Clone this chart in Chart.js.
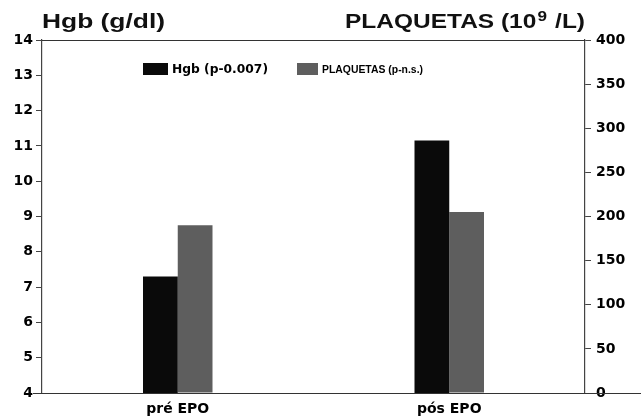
<!DOCTYPE html>
<html>
<head>
<meta charset="utf-8">
<script src="https://cdn.jsdelivr.net/npm/chart.js@4.4.0/dist/chart.umd.min.js"></script>
<style>
html,body{margin:0;padding:0;background:#fff;}
#wrap{width:641px;height:420px;position:relative;}
</style>
</head>
<body>
<div id="wrap"><canvas id="c" width="641" height="420"></canvas></div>
<script>
const categories = ["pré EPO", "pós EPO"];
const hgbValues = [7.3, 11.15];
const plaqValues = [190, 205];
const hgbTicks = [4, 5, 6, 7, 8, 9, 10, 11, 12, 13, 14];
const plaqTicks = [0, 50, 100, 150, 200, 250, 300, 350, 400];
const seriesLabels = ["Hgb (p-0.007)", "PLAQUETAS (p-n.s.)"];
const leftTitle = "Hgb (g/dl)";
const rightTitleParts = ["PLAQUETAS (10", "9", " /L)"];

const FONT = "'DejaVu Sans', 'Liberation Sans', Arial, sans-serif";
const TFONT = "'Liberation Sans', Arial, sans-serif";

function fitText(ctx, text, x, y, font, targetW) {
  ctx.font = font;
  const w = ctx.measureText(text).width;
  ctx.save();
  ctx.translate(x, y);
  ctx.scale(targetW / w, 1);
  ctx.fillText(text, 0, 0);
  ctx.restore();
}

const decor = {
  id: 'decor',
  afterDraw(chart) {
    const ctx = chart.ctx;
    const a = chart.chartArea;
    ctx.save();
    // frame lines
    ctx.strokeStyle = '#333';
    ctx.lineWidth = 1.2;
    ctx.beginPath();
    ctx.moveTo(a.left, a.top + 0.5); ctx.lineTo(a.right, a.top + 0.5);
    ctx.moveTo(33, a.bottom + 0.5); ctx.lineTo(641, a.bottom + 0.5);
    ctx.stroke();
    // titles
    ctx.fillStyle = '#111';
    ctx.textBaseline = 'alphabetic';
    ctx.textAlign = 'left';
    const tf = "bold 20px " + TFONT;
    const sf = "bold 14px " + TFONT;
    fitText(ctx, leftTitle, 42, 28, tf, 123);
    ctx.font = tf;
    const w1 = ctx.measureText(rightTitleParts[0]).width;
    ctx.font = sf;
    const w2 = ctx.measureText(rightTitleParts[1]).width;
    ctx.font = tf;
    const w3 = ctx.measureText(rightTitleParts[2]).width;
    const total = w1 + w2 + 2 + w3;
    const sx = 240 / total;
    ctx.save();
    ctx.translate(345, 28);
    ctx.scale(sx, 1);
    ctx.font = tf;
    ctx.fillText(rightTitleParts[0], 0, 0);
    ctx.font = sf;
    ctx.fillText(rightTitleParts[1], w1 + 1, -7);
    ctx.font = tf;
    ctx.fillText(rightTitleParts[2], w1 + w2 + 2, 0);
    ctx.restore();
    // legend
    const ds = chart.data.datasets;
    const boxes = [[143, 25], [297, 21]];
    const texts = [[172, 96, "bold 11.4px " + FONT], [322, 101, "bold 11.6px " + TFONT]];
    ctx.textBaseline = 'middle';
    ds.forEach((d, i) => {
      ctx.fillStyle = d.backgroundColor;
      ctx.fillRect(boxes[i][0], 63, boxes[i][1], 12);
      ctx.fillStyle = '#000';
      fitText(ctx, d.label, texts[i][0], 70, texts[i][2], texts[i][1]);
    });
    ctx.restore();
  }
};

new Chart(document.getElementById('c'), {
  type: 'bar',
  data: {
    labels: categories,
    datasets: [
      { label: seriesLabels[0], data: hgbValues, yAxisID: 'yL', backgroundColor: '#0a0a0a', borderWidth: 0 },
      { label: seriesLabels[1], data: plaqValues, yAxisID: 'yR', backgroundColor: '#5e5e5e', borderWidth: 0 }
    ]
  },
  options: {
    responsive: false,
    animation: false,
    layout: { padding: { top: 40, bottom: 0, left: 0, right: 0 } },
    plugins: { legend: { display: false }, tooltip: { enabled: false } },
    datasets: { bar: { categoryPercentage: 0.256, barPercentage: 1 } },
    scales: {
      x: {
        grid: { display: false, drawTicks: false },
        border: { display: false },
        ticks: { color: '#000', font: { family: FONT, size: 14, weight: 'bold' }, padding: 8 },
        afterFit(s) { s.height = 27; }
      },
      yL: {
        position: 'left',
        min: 4, max: 14,
        afterBuildTicks(s) { s.ticks = hgbTicks.map(v => ({ value: v })); },
        grid: { drawOnChartArea: false, drawTicks: true, tickLength: 6, color: '#444' },
        border: { display: true, color: '#444', width: 1.2 },
        ticks: { color: '#000', font: { family: FONT, size: 14, weight: 'bold' }, padding: 3 },
        afterFit(s) { s.width = 42; }
      },
      yR: {
        position: 'right',
        min: 0, max: 400,
        afterBuildTicks(s) { s.ticks = plaqTicks.map(v => ({ value: v })); },
        grid: { drawOnChartArea: false, drawTicks: true, tickLength: 6, color: '#444' },
        border: { display: true, color: '#444', width: 1.2 },
        ticks: { color: '#000', font: { family: FONT, size: 14, weight: 'bold' }, padding: 5 },
        afterFit(s) { s.width = 56; }
      }
    }
  },
  plugins: [decor]
});
</script>
</body>
</html>
